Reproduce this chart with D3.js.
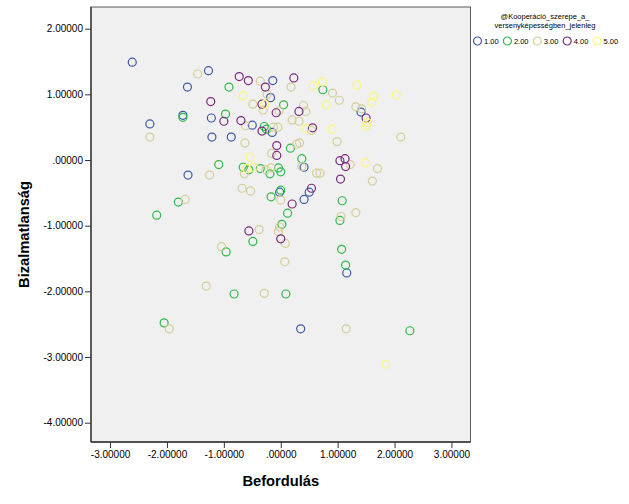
<!DOCTYPE html>
<html>
<head>
<meta charset="utf-8">
<script src="https://cdn.jsdelivr.net/npm/d3@7"></script>
<style>
  html, body { margin: 0; padding: 0; background: #ffffff; }
  svg { display: block; font-family: "Liberation Sans", Arial, sans-serif; }
</style>
</head>
<body>
<svg id="chart" width="629" height="504"></svg>
<script>
// ---------------- data ----------------
const groups = ["1.00", "2.00", "3.00", "4.00", "5.00"];
const legendTitle = ["@Kooperáció_szerepe_a_", "versenyképességben_jelenleg"];
const xTitle = "Befordulás";
const yTitle = "Bizalmatlanság";
const xTicks = [-3, -2, -1, 0, 1, 2, 3];
const xTickLabels = ["-3.00000", "-2.00000", "-1.00000", ".00000", "1.00000", "2.00000", "3.00000"];
const yTicks = [2, 1, 0, -1, -2, -3, -4];
const yTickLabels = ["2.00000", "1.00000", ".00000", "-1.00000", "-2.00000", "-3.00000", "-4.00000"];

// [Befordulás, Bizalmatlanság] per group
const group1 = [
  [-2.61, 1.49], [-1.27, 1.36], [-1.64, 1.11], [-0.14, 1.21], [-0.18, 0.95],
  [-1.72, 0.68], [-1.22, 0.64], [-0.50, 0.53], [-0.15, 0.42], [-2.30, 0.55],
  [-1.21, 0.35], [-0.87, 0.35], [-1.63, -0.23], [1.41, 0.73], [0.41, -0.11],
  [-0.02, -0.49], [0.50, -0.49], [0.41, -0.60], [1.16, -1.72], [0.35, -2.57]
];
const group2 = [
  [-0.91, 1.11], [0.05, 0.84], [-1.72, 0.65], [-0.97, 0.70], [-0.29, 0.51],
  [-0.25, 0.47], [0.17, 0.18], [-1.09, -0.07], [-0.66, -0.11], [-0.56, -0.15],
  [-0.36, -0.13], [-0.04, -0.12], [0.00, -0.18], [-0.19, -0.21], [0.00, -0.46],
  [-0.17, -0.56], [-1.80, -0.64], [-2.18, -0.84], [0.12, -0.81], [0.02, -0.98],
  [-0.49, -1.24], [-0.96, -1.40], [0.74, 1.07], [0.37, 0.02], [1.08, -0.62],
  [1.04, -0.92], [1.07, -1.36], [1.14, -1.60], [-0.82, -2.04], [0.09, -2.04],
  [-2.05, -2.48], [2.27, -2.60]
];
const group3 = [
  [-1.46, 1.31], [-0.36, 1.20], [0.18, 1.11], [-0.24, 1.00], [-0.49, 0.85],
  [-0.31, 0.76], [-0.03, 0.75], [-0.62, 0.52], [-0.13, 0.50], [-0.05, 0.50],
  [-2.30, 0.35], [-0.63, 0.26], [-0.16, 0.10], [-0.64, -0.21], [-0.26, -0.15],
  [-0.17, -0.12], [-0.68, -0.43], [-0.53, -0.47], [0.00, -0.61], [-1.68, -0.60],
  [-0.02, -1.02], [-0.04, -1.09], [-0.38, -1.06], [0.08, -1.27], [-1.04, -1.32],
  [0.07, -1.55], [-1.31, -1.92], [-0.29, -2.03], [-1.96, -2.57], [1.15, -2.57],
  [0.91, 1.02], [1.03, 0.91], [1.32, 0.81], [1.42, 0.78], [2.11, 0.35],
  [0.40, 0.83], [0.44, 0.74], [0.20, 0.61], [0.32, 0.59], [0.54, 0.45],
  [0.99, 0.28], [0.28, 0.24], [0.33, 0.26], [0.37, -0.10], [0.63, -0.20],
  [0.69, -0.20], [1.22, -0.07], [1.70, -0.13], [1.61, -0.32], [1.32, -0.80],
  [1.06, -0.86], [-1.25, -0.23]
];
const group4 = [
  [-0.73, 1.27], [-0.57, 1.21], [-0.27, 1.11], [0.23, 1.25], [-1.23, 0.89],
  [-0.33, 0.85], [-0.08, 0.72], [-1.00, 0.59], [-0.70, 0.60], [-0.33, 0.44],
  [-0.07, 0.22], [-0.07, 0.07], [0.32, 0.74], [1.50, 0.64], [0.56, 0.49],
  [1.04, -0.01], [1.13, 0.02], [1.14, -0.10], [1.05, -0.29], [0.54, -0.43],
  [0.20, -0.67], [-0.56, -1.08], [0.00, -1.20]
];
const group5 = [
  [-0.66, 0.98], [-0.28, 0.85], [-0.54, 0.04], [-0.60, -0.13], [-0.48, -0.11],
  [0.57, 1.13], [0.73, 1.19], [0.80, 0.84], [1.34, 1.14], [1.63, 0.97],
  [1.60, 0.88], [2.03, 0.99], [1.52, 0.57], [1.50, 0.52], [0.44, 0.48],
  [0.90, 0.47], [1.49, -0.04], [1.85, -3.11]
];
const seriesData = [group1, group2, group3, group4, group5];

// ---------------- styles ----------------
const colors = ["#3E58AC", "#2EB848", "#D3CE97", "#7C287D", "#FBF873"];

const svg = d3.select("#chart");

const x = d3.scaleLinear().domain([-3.335, 3.335]).range([91, 470.5]);
const y = d3.scaleLinear().domain([-4.294, 2.33]).range([442, 7]);

// plot background
svg.append("rect")
  .attr("x", x.range()[0]).attr("y", y.range()[1])
  .attr("width", x.range()[1] - x.range()[0])
  .attr("height", y.range()[0] - y.range()[1])
  .attr("fill", "#F0F0F0")
  .attr("stroke", "#5a5a5a")
  .attr("stroke-width", 1);

// points
const pts = svg.append("g");
seriesData.forEach((arr, gi) => {
  pts.selectAll(null)
    .data(arr)
    .enter().append("circle")
    .attr("cx", d => x(d[0]))
    .attr("cy", d => y(d[1]))
    .attr("r", 4)
    .attr("fill", "none")
    .attr("stroke", colors[gi])
    .attr("stroke-width", 1.2);
});

// axes
const xAxis = d3.axisBottom(x).tickValues(xTicks)
  .tickFormat((d, i) => xTickLabels[i]).tickSize(6).tickPadding(3);
const yAxis = d3.axisLeft(y).tickValues(yTicks)
  .tickFormat((d, i) => yTickLabels[i]).tickSize(6).tickPadding(2);

const gx = svg.append("g").attr("transform", `translate(0,${y.range()[0]})`).call(xAxis);
const gy = svg.append("g").attr("transform", `translate(${x.range()[0]},0)`).call(yAxis);
[gx, gy].forEach(g => {
  g.select(".domain").attr("stroke", "#333").attr("stroke-width", 1.3);
  g.selectAll(".tick line").attr("stroke", "#333").attr("stroke-width", 1);
  g.selectAll(".tick text").attr("fill", "#000").attr("font-size", 10)
    .attr("font-family", "'Liberation Sans', Arial, sans-serif");
});
gx.select(".domain").attr("d", `M${x.range()[0]},0H${x.range()[1]}`);
gy.select(".domain").attr("d", `M0,${y.range()[0]}V${y.range()[1]}`);

// axis titles
svg.append("text")
  .attr("x", x(0)).attr("y", 485.5)
  .attr("text-anchor", "middle")
  .attr("font-size", 14.7).attr("font-weight", "bold")
  .text(xTitle);

svg.append("text")
  .attr("transform", `translate(29,${(y.range()[0] + y.range()[1]) / 2 + 10}) rotate(-90)`)
  .attr("text-anchor", "middle")
  .attr("font-size", 14.7).attr("font-weight", "bold")
  .text(yTitle);

// legend
const lg = svg.append("g");
lg.selectAll("text.lt")
  .data(legendTitle)
  .enter().append("text")
  .attr("class", "lt")
  .attr("x", 545).attr("y", (d, i) => 19 + i * 9)
  .attr("text-anchor", "middle")
  .attr("font-size", 7.5)
  .text(d => d);

const items = lg.selectAll("g.item")
  .data(groups)
  .enter().append("g")
  .attr("class", "item")
  .attr("transform", (d, i) => `translate(${477.5 + i * 29.9},41)`);
items.append("circle")
  .attr("r", 4).attr("fill", "none")
  .attr("stroke", (d, i) => colors[i]).attr("stroke-width", 1.2);
items.append("text")
  .attr("x", 6.5).attr("y", 2.8)
  .attr("font-size", 7.5)
  .text(d => d);
</script>
</body>
</html>
